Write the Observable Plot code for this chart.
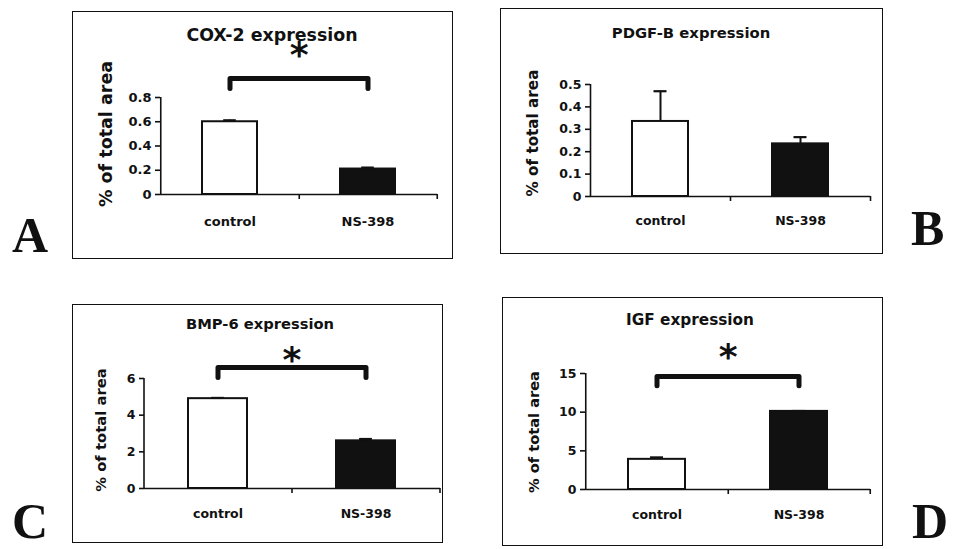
<!DOCTYPE html>
<html>
<head>
<meta charset="utf-8">
<script src="https://cdn.jsdelivr.net/npm/d3@7"></script>
<script src="https://cdn.jsdelivr.net/npm/@observablehq/plot@0.6"></script>
<style>
  html, body { margin: 0; padding: 0; background: #fff; width: 956px; height: 549px; overflow: hidden; }
  #root { position: relative; width: 956px; height: 549px; overflow: hidden; font-family: "DejaVu Sans", Verdana, sans-serif; color: #111; }
  .box { position: absolute; border: 1.6px solid #111; box-sizing: border-box; }
  .chart { position: absolute; }
  .chart svg { overflow: visible; }
  .title { position: absolute; font-weight: bold; white-space: nowrap; transform: translate(-50%, -50%); }
  .ytitle { position: absolute; font-weight: bold; white-space: nowrap; transform: translate(-50%, -50%) rotate(-90deg); }
  .letter { position: absolute; font-family: "Liberation Serif", "Times New Roman", serif; font-weight: bold; font-size: 50px; line-height: 36px; }
</style>
</head>
<body>
<div id="root"></div>
<script>
// ---------- data ----------
const categories = ["control", "NS-398"];
const panelTitles = ["COX-2 expression", "PDGF-B expression", "BMP-6 expression", "IGF expression"];
const panelLetters = ["A", "B", "C", "D"];
const axisTitle = "% of total area";

const coxValues = [0.60, 0.21];
const coxErrors = [0.012, 0.012];
const coxTicks = [0, 0.2, 0.4, 0.6, 0.8];
const coxBracket = [0.875, 0.957];
const coxStar = 1.19;

const pdgfValues = [0.335, 0.235];
const pdgfErrors = [0.135, 0.03];
const pdgfTicks = [0, 0.1, 0.2, 0.3, 0.4, 0.5];

const bmpValues = [4.9, 2.6];
const bmpErrors = [0.04, 0.1];
const bmpTicks = [0, 2, 4, 6];
const bmpBracket = [6.05, 6.6];
const bmpStar = 7.25;

const igfValues = [3.9, 10.1];
const igfErrors = [0.25, 0.05];
const igfTicks = [0, 5, 10, 15];
const igfBracket = [13.4, 14.6];
const igfStar = 17.7;

// ---------- layout ----------
const layouts = [
  {left: 72, top: 11, width: 381, height: 248, ml: 88, mr: 16, mt: 86, mb: 65, xPad: 22,
   titleX: 272, titleY: 35, titleSize: 17.4, yTitleX: 106, yTitleY: 134, yTitleSize: 17.5, tickSize: 13,
   letterX: 12, letterBase: 252},
  {left: 500, top: 8, width: 383, height: 246, ml: 90, mr: 13, mt: 76, mb: 58, xPad: 20,
   titleX: 691, titleY: 32, titleSize: 14.8, yTitleX: 533, yTitleY: 133, yTitleSize: 15.2, tickSize: 12.5,
   letterX: 911, letterBase: 245},
  {left: 72, top: 304, width: 371, height: 239, ml: 72, mr: 3, mt: 74, mb: 55, xPad: 21,
   titleX: 260, titleY: 323, titleSize: 14.7, yTitleX: 100, yTitleY: 430, yTitleSize: 14.8, tickSize: 12.5,
   letterX: 12, letterBase: 538},
  {left: 502, top: 297, width: 381, height: 249, ml: 83, mr: 13, mt: 76, mb: 57, xPad: 21,
   titleX: 690, titleY: 320, titleSize: 15.3, yTitleX: 533, yTitleY: 432, yTitleSize: 14.6, tickSize: 12.5,
   letterX: 912, letterBase: 538}
];

const root = document.getElementById("root");

function addDiv(cls, text, style) {
  const d = document.createElement("div");
  d.className = cls;
  if (text != null) d.textContent = text;
  Object.assign(d.style, style);
  root.appendChild(d);
  return d;
}

function panel(i, values, errors, ticks, bracket, star) {
  const L = layouts[i];
  const rows = categories.map((c, k) => ({cat: c, value: values[k], err: errors[k]}));
  const yMax = ticks[ticks.length - 1];
  const innerW = L.width - L.ml - L.mr;
  const innerH = L.height - L.mt - L.mb;
  const step = innerW / categories.length;
  const bandwidth = step * 0.4;
  const capInset = (bandwidth - 13) / 2;
  const tickExt = 5 * yMax / innerH;
  const ink = "#111";

  const marks = [
    Plot.barY(rows, {x: "cat", y: "value", fill: "cat", stroke: ink, strokeWidth: 2}),
    Plot.ruleX(rows, {x: "cat", y1: "value", y2: d => d.value + d.err, stroke: ink, strokeWidth: 2}),
    Plot.tickY(rows, {x: "cat", y: d => d.value + d.err, stroke: ink, strokeWidth: 2.2, insetLeft: capInset, insetRight: capInset}),
    Plot.ruleY([0], {stroke: ink, strokeWidth: 1.6}),
    Plot.ruleX([categories[0]], {y1: 0, y2: yMax, dx: -step / 2, stroke: ink, strokeWidth: 1.6}),
    Plot.ruleX(categories, {y1: 0, y2: -tickExt, dx: step / 2, stroke: ink, strokeWidth: 1.6}),
    Plot.axisY({ticks: ticks, tickFormat: d => String(d), tickSize: 5, tickPadding: 4, label: null, strokeWidth: 1.6}),
    Plot.axisX({tickSize: 0, tickPadding: L.xPad, label: null})
  ];
  if (bracket) {
    const pts = [
      {x: categories[0], y: bracket[0]},
      {x: categories[0], y: bracket[1]},
      {x: categories[1], y: bracket[1]},
      {x: categories[1], y: bracket[0]}
    ];
    marks.push(Plot.line(pts, {x: "x", y: "y", stroke: ink, strokeWidth: 5, strokeLinejoin: "round", strokeLinecap: "round"}));
    marks.push(Plot.text([{x: categories[0], y: star}], {x: "x", y: "y", text: () => "*", dx: step / 2, dy: 5, fontSize: 36, fontWeight: "bold", fill: ink}));
  }

  const chart = Plot.plot({
    width: L.width,
    height: L.height,
    marginLeft: L.ml,
    marginRight: L.mr,
    marginTop: L.mt,
    marginBottom: L.mb,
    x: {domain: categories, paddingInner: 0.6, paddingOuter: 0.3},
    y: {domain: [0, yMax]},
    color: {domain: categories, range: ["white", ink]},
    style: {background: "transparent", fontFamily: "'DejaVu Sans', Verdana, sans-serif", fontWeight: "bold", fontSize: L.tickSize + "px", color: ink, overflow: "visible"},
    marks
  });
  const holder = addDiv("chart", null, {left: L.left + "px", top: L.top + "px", width: L.width + "px", height: L.height + "px"});
  holder.appendChild(chart);
  addDiv("box", null, {left: L.left + "px", top: L.top + "px", width: L.width + "px", height: L.height + "px"});
  addDiv("title", panelTitles[i], {left: L.titleX + "px", top: L.titleY + "px", fontSize: L.titleSize + "px"});
  addDiv("ytitle", axisTitle, {left: L.yTitleX + "px", top: L.yTitleY + "px", fontSize: L.yTitleSize + "px"});
  addDiv("letter", panelLetters[i], {left: L.letterX + "px", top: (L.letterBase - 35) + "px"});
}

panel(0, coxValues, coxErrors, coxTicks, coxBracket, coxStar);
panel(1, pdgfValues, pdgfErrors, pdgfTicks, null, null);
panel(2, bmpValues, bmpErrors, bmpTicks, bmpBracket, bmpStar);
panel(3, igfValues, igfErrors, igfTicks, igfBracket, igfStar);
</script>
</body>
</html>
